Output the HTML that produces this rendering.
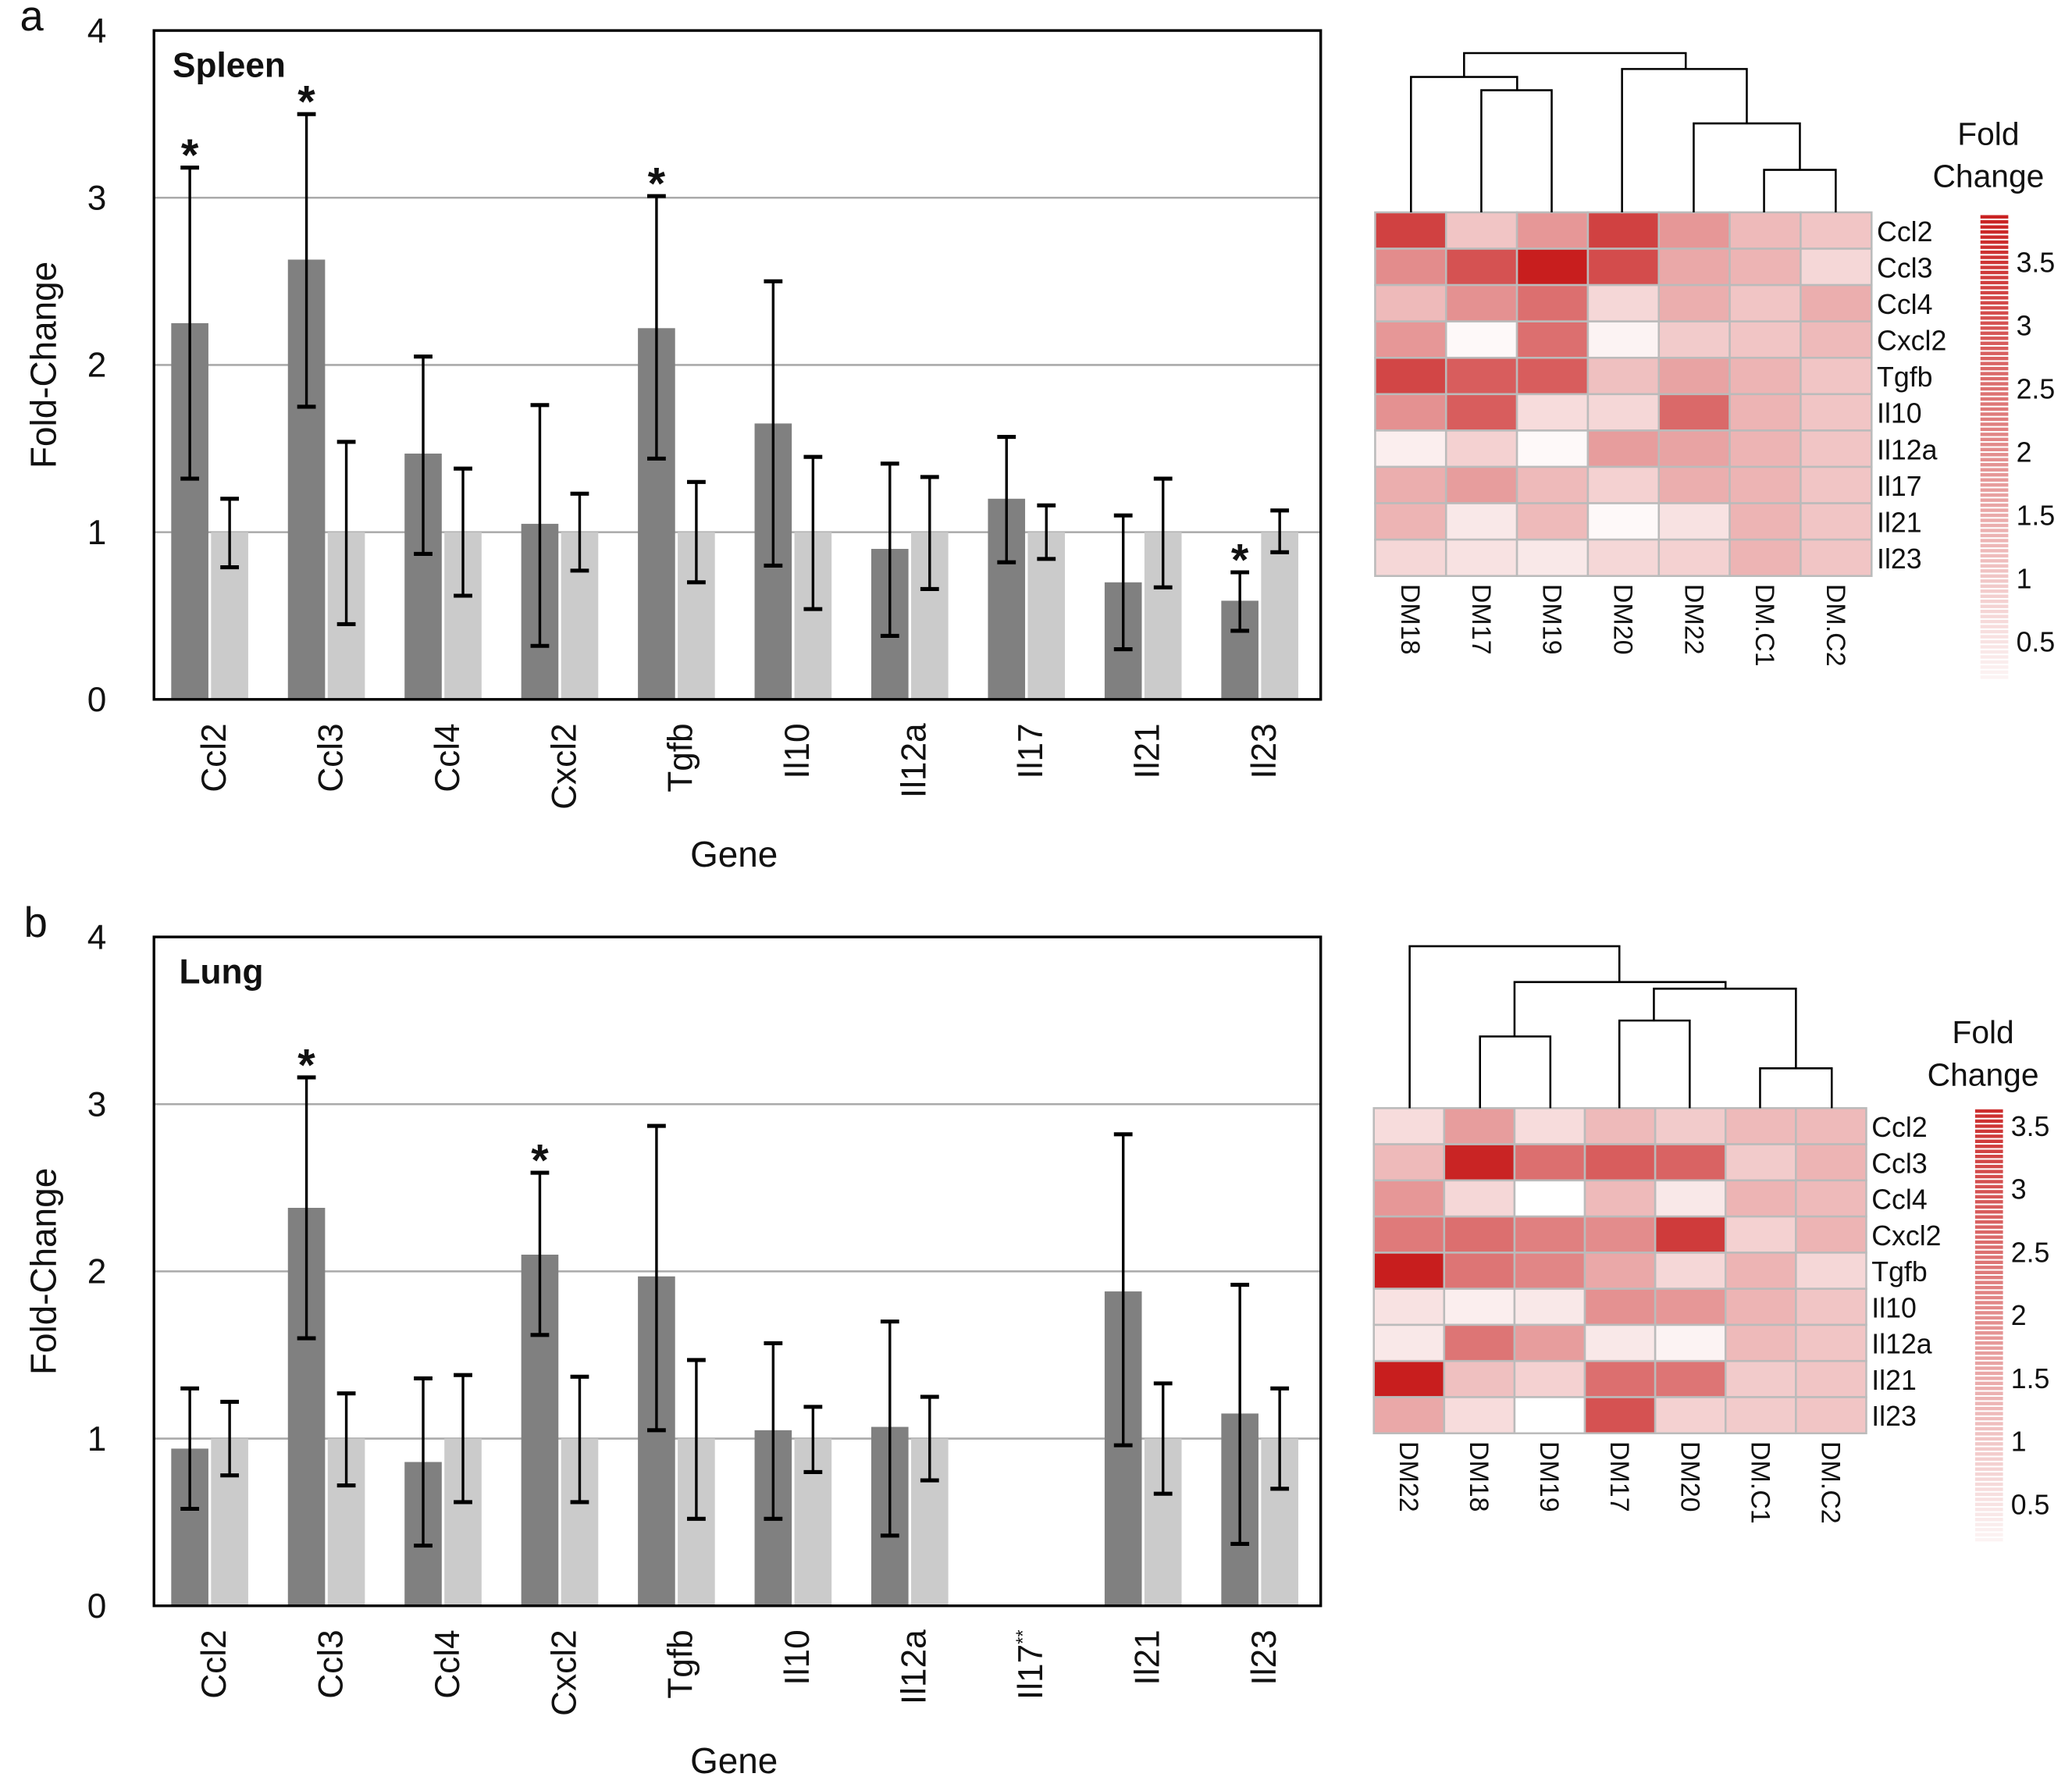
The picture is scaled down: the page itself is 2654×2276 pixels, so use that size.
<!DOCTYPE html>
<html><head><meta charset="utf-8"><style>
html,body{margin:0;padding:0;background:#fff}
svg{display:block}
text{font-family:"Liberation Sans",Arial,sans-serif;fill:#111}
</style></head><body>
<svg id="fig" width="2654" height="2276" viewBox="0 0 1561 1339" preserveAspectRatio="none" xmlns="http://www.w3.org/2000/svg"></svg>
<script>
const genes=["Ccl2","Ccl3","Ccl4","Cxcl2","Tgfb","Il10","Il12a","Il17","Il21","Il23"];
const genesLung=["Ccl2","Ccl3","Ccl4","Cxcl2","Tgfb","Il10","Il12a","Il17**","Il21","Il23"];
const spleenDark=[2.25,2.63,1.47,1.05,2.22,1.65,0.9,1.2,0.7,0.59];
const spleenDarkLo=[1.32,1.75,0.87,0.32,1.44,0.8,0.38,0.82,0.3,0.41];
const spleenDarkHi=[3.18,3.5,2.05,1.76,3.01,2.5,1.41,1.57,1.1,0.76];
const spleenLight=[1,1,1,1,1,1,1,1,1,1];
const spleenLightLo=[0.79,0.45,0.62,0.77,0.7,0.54,0.66,0.84,0.67,0.88];
const spleenLightHi=[1.2,1.54,1.38,1.23,1.3,1.45,1.33,1.16,1.32,1.13];
const spleenStar=[1,1,0,0,1,0,0,0,0,1];
const lungDark=[0.94,2.38,0.86,2.1,1.97,1.05,1.07,null,1.88,1.15];
const lungDarkLo=[0.58,1.6,0.36,1.62,1.05,0.52,0.42,null,0.96,0.37];
const lungDarkHi=[1.3,3.16,1.36,2.59,2.87,1.57,1.7,null,2.82,1.92];
const lungLight=[1,1,1,1,1,1,1,null,1,1];
const lungLightLo=[0.78,0.72,0.62,0.62,0.52,0.8,0.75,null,0.67,0.7];
const lungLightHi=[1.22,1.27,1.38,1.37,1.47,1.19,1.25,null,1.33,1.3];
const lungStar=[0,1,0,1,0,0,0,0,0,0];
const yTicks=[0,1,2,3,4];
const hmColsA=["DM18","DM17","DM19","DM20","DM22","DM.C1","DM.C2"];
const hmRowsA=["Ccl2","Ccl3","Ccl4","Cxcl2","Tgfb","Il10","Il12a","Il17","Il21","Il23"];
const hmA=[[3.3,1.0,1.8,3.3,1.8,1.2,1.0],[2.0,3.0,3.9,3.1,1.5,1.3,0.7],[1.2,1.9,2.5,0.7,1.4,1.0,1.4],[1.8,0.1,2.5,0.2,0.9,1.0,1.2],[3.2,2.8,2.8,1.1,1.6,1.3,1.0],[1.9,2.8,0.6,0.7,2.6,1.3,1.0],[0.3,0.8,0.1,1.7,1.6,1.3,1.0],[1.4,1.7,1.2,0.8,1.4,1.3,1.0],[1.3,0.4,1.2,0.1,0.5,1.3,1.0],[0.7,0.5,0.4,0.7,0.8,1.3,1.0]];
const hmColsB=["DM22","DM18","DM19","DM17","DM20","DM.C1","DM.C2"];
const hmRowsB=["Ccl2","Ccl3","Ccl4","Cxcl2","Tgfb","Il10","Il12a","Il21","Il23"];
const hmB=[[0.6,1.7,0.6,1.2,0.9,1.2,1.2],[1.2,3.8,2.5,2.8,2.7,0.9,1.3],[1.8,0.7,0.0,1.2,0.4,1.3,1.2],[2.3,2.5,2.2,2.0,3.4,0.8,1.3],[3.9,2.4,2.1,1.5,0.7,1.3,0.7],[0.5,0.3,0.4,1.9,1.8,1.3,1.0],[0.4,2.4,1.7,0.4,0.2,1.2,1.0],[3.9,1.1,0.8,2.5,2.4,0.9,1.0],[1.5,0.6,0.0,3.0,0.8,0.9,1.0]];
const cbTicks=[0.5,1,1.5,2,2.5,3,3.5];

const NS="http://www.w3.org/2000/svg",svg=document.getElementById('fig');
function el(t,a,p,txt){const e=document.createElementNS(NS,t);for(const k in a)e.setAttribute(k,a[k]);if(txt!=null)e.textContent=txt;(p||svg).appendChild(e);return e;}
function col(v){const t=Math.max(0,Math.min(1,v/3.9));return `rgb(${Math.round(255-55*t)},${Math.round(255-225*t)},${Math.round(255-225*t)})`;}

function barPanel(o){
  const g=el('g',{});
  const x0=116,x1=995,y0=o.top+504,yt=o.top;
  const Y=v=>y0-(v/4)*(y0-yt);const gw=(x1-x0)/10;
  yTicks.forEach(t=>{
    if(t>0&&t<4){const l=el('line',{x1:x0,x2:x1,y1:Y(t),y2:Y(t),stroke:'#aaa','stroke-width':1.5},g);}
    const tx=el('text',{x:73,y:Y(t)+9,'font-size':26,'text-anchor':'middle'},g,String(t));
  });
  const dk=o.dark,dlo=o.darkLo,dhi=o.darkHi,lt=o.light,llo=o.lightLo,lhi=o.lightHi;
  function err(cx,lo,hi){el('line',{x1:cx,x2:cx,y1:Y(lo),y2:Y(hi),stroke:'#000','stroke-width':2},g);
    el('line',{x1:cx-7,x2:cx+7,y1:Y(lo),y2:Y(lo),stroke:'#000','stroke-width':3},g);
    el('line',{x1:cx-7,x2:cx+7,y1:Y(hi),y2:Y(hi),stroke:'#000','stroke-width':3},g);}
  o.labels.forEach((gn,i)=>{
    const gx=x0+i*gw;
    if(dk[i]!=null){const r=el('rect',{x:gx+13,y:Y(dk[i]),width:28,height:y0-Y(dk[i]),fill:'#808080'},g);}
    if(lt[i]!=null){const r=el('rect',{x:gx+43,y:Y(lt[i]),width:28,height:y0-Y(lt[i]),fill:'#cbcbcb'},g);}
    if(dk[i]!=null)err(gx+27,dlo[i],dhi[i]);
    if(lt[i]!=null)err(gx+57,llo[i],lhi[i]);
    if(o.star[i]){const s=el('text',{x:gx+27,y:Y(dhi[i])+2,'font-size':34,'font-weight':'bold','text-anchor':'middle'},g,'*');}
    const cx=gx+gw/2+10;
    const tl=el('text',{x:cx,y:y0+18,'font-size':26,'text-anchor':'end',transform:`rotate(-90 ${cx} ${y0+18})`},g);
    
    if(gn.endsWith('**')){tl.textContent='Il17';el('tspan',{'font-size':14,dy:-10},tl,'**');}else tl.textContent=gn;
  });
  const fr=el('rect',{x:x0,y:yt,width:x1-x0,height:y0-yt,fill:'none',stroke:'#000','stroke-width':2},g);
  const t=el('text',{x:o.titleX,y:yt+35,'font-size':26,'font-weight':'bold'},g,o.title);
  const yl=el('text',{x:42,y:(yt+y0)/2,'font-size':27,'text-anchor':'middle',transform:`rotate(-90 42 ${(yt+y0)/2})`},g,'Fold-Change');
  const xl=el('text',{x:553,y:y0+126,'font-size':27,'text-anchor':'middle'},g,'Gene');
  const pl=el('text',{x:o.letterX,y:o.top+0,'font-size':32},g,o.letter);
}
barPanel({name:'spleen-bar-chart',top:23,labels:genes,dark:spleenDark,darkLo:spleenDarkLo,darkHi:spleenDarkHi,light:spleenLight,lightLo:spleenLightLo,lightHi:spleenLightHi,star:spleenStar,title:'Spleen',titleX:130,letter:'a',letterX:15});
barPanel({name:'lung-bar-chart',top:706,labels:genesLung,dark:lungDark,darkLo:lungDarkLo,darkHi:lungDarkHi,light:lungLight,lightLo:lungLightLo,lightHi:lungLightHi,star:lungStar,title:'Lung',titleX:135,letter:'b',letterX:18});

function heat(o){
  const g=el('g',{});
  const nr=o.rows.length,nc=o.cols.length,cw=(o.x1-o.x0)/nc,rh=(o.y1-o.y0)/nr;
  o.data.forEach((row,r)=>row.forEach((v,c)=>{
    const cell=el('rect',{x:o.x0+c*cw,y:o.y0+r*rh,width:cw,height:rh,fill:col(v),stroke:'#bbb','stroke-width':1.5},g);
    
  }));
  o.rows.forEach((n,r)=>{const t=el('text',{x:o.x1+4,y:o.y0+(r+0.5)*rh+8,'font-size':21},g,n);});
  o.cols.forEach((n,c)=>{const cx=o.x0+(c+0.5)*cw-7,cy=o.y1+6;const t=el('text',{x:cx,y:cy,'font-size':20,transform:`rotate(90 ${cx} ${cy})`},g,n);});
  const d=el('path',{d:o.dendro,fill:'none',stroke:'#000','stroke-width':1.5},g);
  const cb=el('g',{},g);
  const Yc=v=>o.cbY05-(v-0.5)*o.cbK;
  for(let v=0.2;v<=o.cbMax;v+=0.04){el('rect',{x:o.cbX,y:Yc(v)-2.6,width:21,height:2.6,fill:col(v)},cb);}
  cbTicks.forEach(t=>{const tx=el('text',{x:o.cbX+27,y:Yc(t)+8,'font-size':21},cb,String(t));});
  const l1=el('text',{x:o.cbX+6,y:o.titleY,'font-size':24,'text-anchor':'middle'},cb,'Fold');
  el('text',{x:o.cbX+6,y:o.titleY+32,'font-size':24,'text-anchor':'middle'},cb,'Change');
}
heat({name:'spleen-heatmap',x0:1036,x1:1410,y0:160,y1:434,rows:hmRowsA,cols:hmColsA,data:hmA,cbX:1492,cbY05:483,cbK:95.3,cbMax:3.86,titleY:109,
 dendro:'M1063,160V58H1143V68M1103,58V40H1270V52M1116,160V68H1169V160M1222,160V52H1316V93M1276,160V93H1356V128M1329,160V128H1383V160'});
heat({name:'lung-heatmap',x0:1035,x1:1406,y0:835,y1:1080,rows:hmRowsB,cols:hmColsB,data:hmB,cbX:1488,cbY05:1133,cbK:95,cbMax:3.62,titleY:786,
 dendro:'M1062,835V713H1220V740M1141,781V740H1300V745M1115,835V781H1168V835M1246,769V745H1353V805M1220,835V769H1273V835M1326,835V805H1380V835'});
</script>
</body></html>
